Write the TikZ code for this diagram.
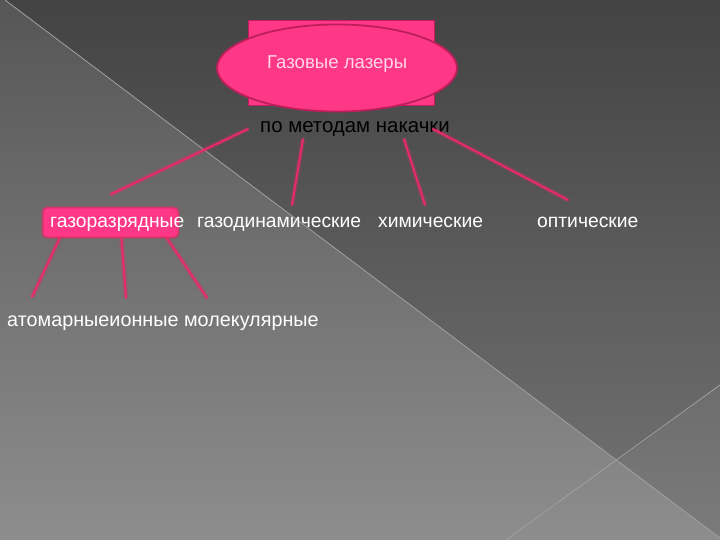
\documentclass[tikz,border=0pt]{standalone}
\usepackage{fontspec}
\setmainfont{Liberation Sans}
\usetikzlibrary{shapes.geometric}
\definecolor{pinkfill}{RGB}{255,55,135}
\definecolor{pinkedge}{RGB}{190,30,90}
\definecolor{pinkline}{RGB}{232,42,105}
\definecolor{titletext}{RGB}{255,215,230}
\definecolor{bgLLtop}{RGB}{86,86,86}
\definecolor{bgLLmid}{RGB}{104,104,104}
\definecolor{bgLLbot}{RGB}{141,141,141}
\definecolor{bgURtop}{RGB}{67,67,67}
\definecolor{bgURmid}{RGB}{86,86,86}
\definecolor{bgURbot}{RGB}{116,116,116}
\definecolor{bgline}{RGB}{160,160,160}
\tikzset{
  lbl/.style={inner sep=0pt, anchor=base west, font=\fontsize{19.3}{22}\selectfont, text=white},
  conn/.style={pinkline, line width=2pt, line cap=round,
    preaction={draw=pinkline, line width=5pt, opacity=0.25}},
  bgedge/.style={bgline, line width=0.8pt},
}
\begin{document}
\begin{tikzpicture}[x=1pt,y=-1pt]
\useasboundingbox (0,0) rectangle (720,540);
% background
\shade[top color=bgLLtop, middle color=bgLLmid, bottom color=bgLLbot] (0,0) -- (5,0) -- (720,538) -- (720,540) -- (0,540) -- cycle;
\shade[top color=bgURtop, middle color=bgURmid, bottom color=bgURbot] (5,0) -- (720,0) -- (720,538) -- cycle;
\fill[white, opacity=0.05] (720,385) -- (617,462) -- (720,538) -- cycle;
\draw[bgedge] (5,0) -- (720,538);
\draw[bgedge] (720,385) -- (506,540);
% top
\node[rectangle, fill=pinkfill, draw=pinkedge, line width=0.8pt, minimum width=186pt, minimum height=85pt, inner sep=0pt] (rect) at (341,62.5) {};
\node[ellipse, fill=pinkfill, draw=pinkedge, line width=1.8pt, minimum width=240pt, minimum height=87pt, inner sep=0pt] (ell) at (337,68) {};
\node[lbl, text=titletext, font=\fontsize{18.6}{22}\selectfont] (title) at (267,69) {Газовые лазеры};
\node[lbl, text=black, font=\fontsize{20.4}{22}\selectfont] (pump) at (260,133) {по методам накачки};
% second row
\node[rectangle, rounded corners=4pt, fill=pinkfill, draw=pinkline, line width=1pt, minimum width=135pt, minimum height=29pt, inner sep=0pt,
  preaction={draw=pinkline, line width=4pt, opacity=0.3, rounded corners=4pt}] (grbox) at (110.5,222.5) {};
\node[lbl] (gr) at (50,227) {газоразрядные};
\node[lbl] (gd) at (197,227) {газодинамические};
\node[lbl] (him) at (378,227) {химические};
\node[lbl] (opt) at (537,227) {оптические};
% third row
\node[lbl, font=\fontsize{19.8}{22}\selectfont] (bottom) at (7,326) {атомарныеионные молекулярные};
% connectors
\draw[conn] ([shift={(-12,-4)}]pump.base west) -- ([shift={(0,-13)}]grbox.north);
\draw[conn] ([shift={(43,6)}]pump.base west) -- ([shift={(95,-22)}]gd.base west);
\draw[conn] ([shift={(144,6)}]pump.base west) -- ([shift={(47,-22)}]him.base west);
\draw[conn] ([shift={(173,-4)}]pump.base west) -- ([shift={(31,-27)}]opt.base west);
\draw[conn] ([shift={(17,1)}]grbox.south west) -- ([shift={(25,-29)}]bottom.base west);
\draw[conn] ([shift={(79,1)}]grbox.south west) -- ([shift={(119,-28)}]bottom.base west);
\draw[conn] ([shift={(124,0)}]grbox.south west) -- ([shift={(200,-28)}]bottom.base west);
\end{tikzpicture}
\end{document}
